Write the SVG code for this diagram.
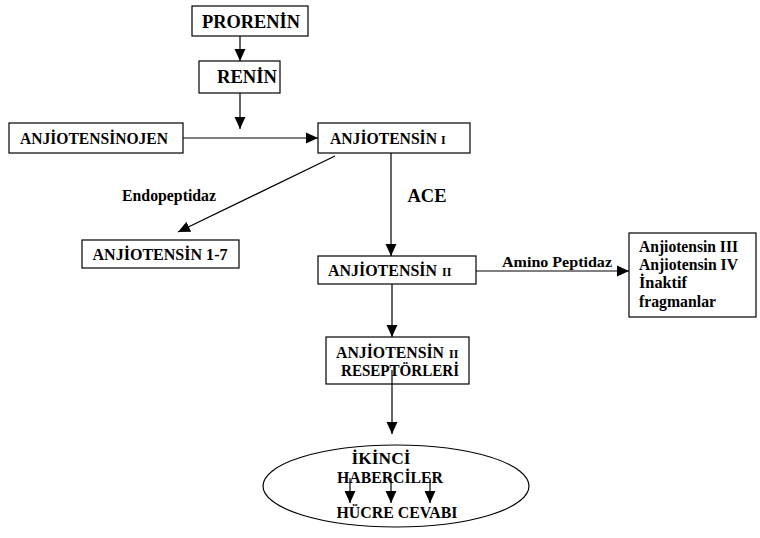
<svg xmlns="http://www.w3.org/2000/svg" width="760" height="538" viewBox="0 0 760 538">
<style>
.t{font-family:"Liberation Serif","Times New Roman",serif;font-weight:bold;fill:#000}
.s{font-family:"Liberation Serif","Times New Roman",serif;font-weight:bold;fill:#000;font-size:12px}
.b{fill:#fff;stroke:#000;stroke-width:1.2}
.c{stroke:#000;stroke-width:1.2;fill:none}
</style>
<defs>
<marker id="ah" markerUnits="userSpaceOnUse" markerWidth="12" markerHeight="12" refX="11" refY="5" orient="auto" viewBox="0 0 11 10">
<path d="M0,0 L11,5 L0,10 z" fill="#000"/>
</marker>
</defs>
<rect width="760" height="538" fill="#fff"/>
<g id="connectors">
<line class="c" x1="240" y1="36" x2="240" y2="61" marker-end="url(#ah)"/>
<line class="c" x1="240" y1="93" x2="240" y2="129" marker-end="url(#ah)"/>
<line class="c" x1="183" y1="138" x2="318" y2="138" marker-end="url(#ah)"/>
<line class="c" x1="335" y1="156" x2="178" y2="232" marker-end="url(#ah)"/>
<line class="c" x1="391" y1="153" x2="391" y2="256" marker-end="url(#ah)"/>
<line class="c" x1="476" y1="271" x2="629" y2="271" marker-end="url(#ah)"/>
<line class="c" x1="392" y1="284" x2="392" y2="337" marker-end="url(#ah)"/>
<line class="c" x1="392" y1="370" x2="392" y2="434" marker-end="url(#ah)"/>
<text class="t" x="169" y="201" font-size="16" text-anchor="middle" textLength="94" lengthAdjust="spacingAndGlyphs">Endopeptidaz</text>
<text class="t" x="427" y="202" font-size="19.5" text-anchor="middle" textLength="39" lengthAdjust="spacingAndGlyphs">ACE</text>
<text class="t" x="557" y="267" font-size="15.5" text-anchor="middle" textLength="110" lengthAdjust="spacingAndGlyphs">Amino Peptidaz</text>
</g>
<g id="prorenin">
<rect class="b" x="192" y="6" width="116" height="30"/>
<text class="t" x="251" y="28" font-size="19.5" text-anchor="middle" textLength="98" lengthAdjust="spacingAndGlyphs">PRORENİN</text>
</g>
<g id="renin">
<rect class="b" x="199" y="61" width="81" height="32"/>
<text class="t" x="247" y="83" font-size="19.5" text-anchor="middle" textLength="60" lengthAdjust="spacingAndGlyphs">RENİN</text>
</g>
<g id="anjiotensinojen">
<rect class="b" x="9" y="123" width="174" height="30"/>
<text class="t" x="94" y="144" font-size="16" text-anchor="middle" textLength="148" lengthAdjust="spacingAndGlyphs">ANJİOTENSİNOJEN</text>
</g>
<g id="anjiotensin1">
<rect class="b" x="318" y="123" width="152" height="30"/>
<text class="t" x="330" y="144" font-size="16" textLength="107" lengthAdjust="spacingAndGlyphs">ANJİOTENSİN</text>
<text class="s" x="441" y="144">I</text>
</g>
<g id="anjiotensin17">
<rect class="b" x="82" y="240" width="157" height="28"/>
<text class="t" x="160" y="260" font-size="16" text-anchor="middle" textLength="135" lengthAdjust="spacingAndGlyphs">ANJİOTENSİN  1-7</text>
</g>
<g id="anjiotensin2">
<rect class="b" x="318" y="256" width="158" height="28"/>
<text class="t" x="328" y="276" font-size="16" textLength="109" lengthAdjust="spacingAndGlyphs">ANJİOTENSİN</text>
<text class="s" x="442" y="276">II</text>
</g>
<g id="products">
<rect class="b" x="629" y="233" width="127" height="84"/>
<text class="t" x="639" y="252" font-size="16" textLength="99" lengthAdjust="spacingAndGlyphs">Anjiotensin  III</text>
<text class="t" x="639" y="270" font-size="16" textLength="99" lengthAdjust="spacingAndGlyphs">Anjiotensin  IV</text>
<text class="t" x="639" y="288" font-size="16" textLength="48" lengthAdjust="spacingAndGlyphs">İnaktif</text>
<text class="t" x="639" y="307" font-size="16" textLength="77" lengthAdjust="spacingAndGlyphs">fragmanlar</text>
</g>
<g id="receptors">
<rect class="b" x="326" y="337" width="143" height="47"/>
<text class="t" x="336" y="358" font-size="16" textLength="108" lengthAdjust="spacingAndGlyphs">ANJİOTENSİN</text>
<text class="s" x="449" y="358">II</text>
<text class="t" x="400" y="376" font-size="16" text-anchor="middle" textLength="118" lengthAdjust="spacingAndGlyphs">RESEPTÖRLERİ</text>
<line class="c" x1="392" y1="370" x2="392" y2="384"/>
</g>
<g id="second-messengers">
<ellipse class="b" cx="396" cy="486" rx="133" ry="41"/>
<text class="t" x="381" y="464" font-size="16.5" text-anchor="middle" textLength="59" lengthAdjust="spacingAndGlyphs">İKİNCİ</text>
<text class="t" x="390" y="483" font-size="16.5" text-anchor="middle" textLength="106" lengthAdjust="spacingAndGlyphs">HABERCİLER</text>
<text class="t" x="397" y="518" font-size="16.5" text-anchor="middle" textLength="121" lengthAdjust="spacingAndGlyphs">HÜCRE  CEVABI</text>
<line class="c" x1="350" y1="478" x2="350" y2="503" marker-end="url(#ah)"/>
<line class="c" x1="391" y1="478" x2="391" y2="503" marker-end="url(#ah)"/>
<line class="c" x1="430" y1="478" x2="430" y2="503" marker-end="url(#ah)"/>
</g>
</svg>
